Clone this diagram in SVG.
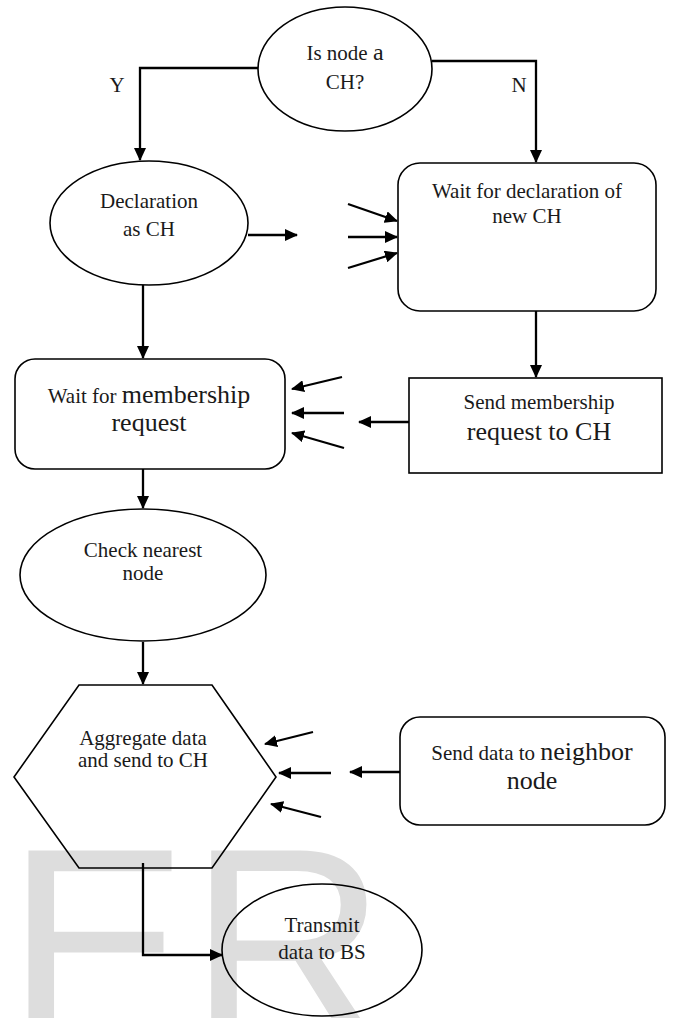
<svg xmlns="http://www.w3.org/2000/svg" width="678" height="1018" viewBox="0 0 678 1018">
<style>
.shape{fill:none;stroke:#000;stroke-width:1.6}
.conn{fill:none;stroke:#000;stroke-width:2.3}
.t{font-family:'Liberation Serif','Times New Roman','DejaVu Serif',serif;font-size:21px;fill:#1a1a1a;text-anchor:middle}
.big{font-size:26px}
.wm{font-family:'Liberation Sans',Arial,sans-serif;font-size:274px;fill:#dddddd}
</style>
<defs>
<marker id="ah" markerUnits="userSpaceOnUse" markerWidth="13" markerHeight="12" refX="12" refY="6" orient="auto">
<path d="M0,0 L13,6 L0,12 z" fill="#000"/>
</marker>
</defs>
<rect width="678" height="1018" fill="#fff"/>
<text class="wm" x="6" y="1039">ER</text>

<g id="connectors">
<polyline class="conn" points="258,68 140,68 140,160" marker-end="url(#ah)"/>
<polyline class="conn" points="432,61 536,61 536,162" marker-end="url(#ah)"/>
<line class="conn" x1="248" y1="235" x2="297" y2="235" marker-end="url(#ah)"/>
<line class="conn" x1="348" y1="204" x2="397" y2="221" marker-end="url(#ah)"/>
<line class="conn" x1="348" y1="237" x2="397" y2="237" marker-end="url(#ah)"/>
<line class="conn" x1="348" y1="268" x2="397" y2="253" marker-end="url(#ah)"/>
<line class="conn" x1="143" y1="285" x2="143" y2="358" marker-end="url(#ah)"/>
<line class="conn" x1="536" y1="311" x2="536" y2="377" marker-end="url(#ah)"/>
<line class="conn" x1="342" y1="377" x2="292" y2="389" marker-end="url(#ah)"/>
<line class="conn" x1="344" y1="413" x2="292" y2="413" marker-end="url(#ah)"/>
<line class="conn" x1="344" y1="448" x2="292" y2="433" marker-end="url(#ah)"/>
<line class="conn" x1="409" y1="422" x2="359" y2="422" marker-end="url(#ah)"/>
<line class="conn" x1="143" y1="469" x2="143" y2="508" marker-end="url(#ah)"/>
<line class="conn" x1="143" y1="642" x2="143" y2="684" marker-end="url(#ah)"/>
<line class="conn" x1="313" y1="732" x2="265" y2="744" marker-end="url(#ah)"/>
<line class="conn" x1="331" y1="773" x2="279" y2="773" marker-end="url(#ah)"/>
<line class="conn" x1="321" y1="817" x2="271" y2="804" marker-end="url(#ah)"/>
<line class="conn" x1="400" y1="772" x2="350" y2="772" marker-end="url(#ah)"/>
<polyline class="conn" points="143,863 143,955 222,955" marker-end="url(#ah)"/>
</g>

<g id="n-is-ch">
<ellipse class="shape" cx="345" cy="69" rx="87" ry="62" fill="#fff"/>
<text class="t" x="345" y="60">Is node <tspan font-size="24">a</tspan></text>
<text class="t" x="345" y="89" font-size="26">CH?</text>
</g>
<g id="lbl-y"><text class="t" x="117" y="92" font-size="22">Y</text></g>
<g id="lbl-n"><text class="t" x="519" y="92" font-size="22">N</text></g>

<g id="n-declaration">
<ellipse class="shape" cx="149" cy="223" rx="99" ry="62"/>
<text class="t" x="149" y="208">Declaration</text>
<text class="t" x="149" y="236">as CH</text>
</g>

<g id="n-wait-decl">
<rect class="shape" x="398" y="163" width="258" height="148" rx="22"/>
<text class="t" x="527" y="198">Wait for declaration of</text>
<text class="t" x="527" y="223">new CH</text>
</g>

<g id="n-wait-member">
<rect class="shape" x="15" y="359" width="270" height="110" rx="20"/>
<text class="t" x="149" y="403" font-size="19">Wait for <tspan font-size="26">membership</tspan></text>
<text class="t big" x="149" y="431">request</text>
</g>

<g id="n-send-member">
<rect class="shape" x="409" y="378" width="253" height="95"/>
<text class="t" x="539" y="409">Send membership</text>
<text class="t big" x="539" y="440">request to CH</text>
</g>

<g id="n-check">
<ellipse class="shape" cx="143" cy="575" rx="123" ry="66"/>
<text class="t" x="143" y="557">Check nearest</text>
<text class="t" x="143" y="580">node</text>
</g>

<g id="n-aggregate">
<polygon class="shape" points="79,685 212,685 276,777 212,868 79,868 14,777"/>
<text class="t" x="143" y="745" font-size="20">Aggregate data</text>
<text class="t" x="143" y="767" font-size="20">and send to CH</text>
</g>

<g id="n-send-data">
<rect class="shape" x="400" y="717" width="265" height="108" rx="20"/>
<text class="t" x="532" y="760" font-size="20">Send data to <tspan font-size="26">neighbor</tspan></text>
<text class="t big" x="532" y="789">node</text>
</g>

<g id="n-transmit">
<ellipse class="shape" cx="322" cy="950" rx="100" ry="66"/>
<text class="t" x="322" y="932">Transmit</text>
<text class="t" x="322" y="959">data to BS</text>
</g>
</svg>
